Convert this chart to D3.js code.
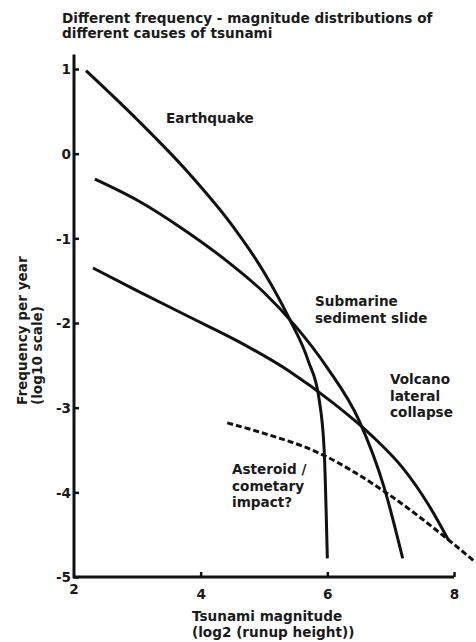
<!DOCTYPE html>
<html>
<head>
<meta charset="utf-8">
<script src="https://cdn.jsdelivr.net/npm/d3@7"></script>
<style>
  html, body { margin: 0; padding: 0; background: #fff; }
  svg text { font-family: "DejaVu Sans", Verdana, sans-serif; font-weight: bold; fill: #1a1a1a; }
</style>
</head>
<body>
<svg id="chart" width="476" height="642"></svg>
<script>
// Tsunami frequency-magnitude curves: x = log2(runup height), y = log10(frequency per year)
const xTicks = [2, 4, 6, 8];
const yTicks = [1, 0, -1, -2, -3, -4, -5];

const earthquake = [
  [2.19, 0.98], [3.0, 0.40], [3.8, -0.22], [4.5, -0.85], [5.0, -1.40],
  [5.4, -1.95], [5.7, -2.45], [5.87, -2.90], [5.95, -3.50], [6.0, -4.78]
];
const submarineSlide = [
  [2.33, -0.30], [3.0, -0.55], [3.7, -0.88], [4.4, -1.26], [5.0, -1.64],
  [5.5, -2.04], [6.0, -2.53], [6.5, -3.15], [6.9, -3.95], [7.19, -4.78]
];
const volcanoCollapse = [
  [2.30, -1.35], [3.0, -1.62], [3.8, -1.92], [4.6, -2.22], [5.4, -2.57],
  [6.1, -2.95], [6.7, -3.33], [7.2, -3.72], [7.6, -4.15], [7.91, -4.56]
];
const asteroidImpact = [
  [4.42, -3.18], [4.94, -3.29], [5.88, -3.54], [6.94, -4.01], [7.91, -4.56], [8.33, -4.82]
];

const svg = d3.select("#chart");
const x = d3.scaleLinear().domain([2, 8]).range([74, 454]);
const y = d3.scaleLinear().domain([-5, 1]).range([577, 69]);
const FS = "13.6px";

// Title
svg.append("text").attr("x", 62).attr("y", 23).style("font-size", FS)
  .text("Different frequency - magnitude distributions of");
svg.append("text").attr("x", 62).attr("y", 38).style("font-size", FS)
  .text("different causes of tsunami");

// Axes (plain hyphen for negative numbers)
const fmt = d => String(d);
const yAxis = d3.axisLeft(y).tickValues(yTicks).tickSize(-5).tickPadding(8).tickFormat(fmt);
const gy = svg.append("g").attr("transform", `translate(${x(2)},0)`).call(yAxis);
gy.select(".domain").remove();
gy.selectAll(".tick line").attr("stroke", "#111").attr("stroke-width", 2.5);
gy.selectAll(".tick text").style("font-size", FS).attr("dy", "0.35em").attr("x", -3);

const xAxis = d3.axisBottom(x).tickValues(xTicks.slice(1)).tickSize(-5).tickPadding(6).tickFormat(fmt);
const gx = svg.append("g").attr("transform", `translate(0,${y(-5)})`).call(xAxis);
gx.select(".domain").remove();
gx.selectAll(".tick line").attr("stroke", "#111").attr("stroke-width", 2.5);
gx.selectAll(".tick text").style("font-size", FS).attr("y", 12);

// origin label on the x axis
svg.append("text").attr("x", x(xTicks[0])).attr("y", 594).attr("text-anchor", "middle")
  .style("font-size", FS).text(xTicks[0]);

// axis lines
svg.append("path")
  .attr("d", `M${x(2)},${y(1.17)}V${y(-5)}H${x(8)}`)
  .attr("fill", "none").attr("stroke", "#111").attr("stroke-width", 3);

// Axis titles
svg.append("text").attr("x", 192).attr("y", 621).style("font-size", FS).text("Tsunami magnitude");
svg.append("text").attr("x", 192).attr("y", 637).style("font-size", FS).text("(log2 (runup height))");

const yl = svg.append("g").attr("transform", "translate(0,405) rotate(-90)");
yl.append("text").attr("x", 0).attr("y", 27).style("font-size", FS).text("Frequency per year");
yl.append("text").attr("x", 0).attr("y", 42).style("font-size", FS).text("(log10 scale)");

// Curves
const line = d3.line().x(d => x(d[0])).y(d => y(d[1])).curve(d3.curveMonotoneX);
[earthquake, submarineSlide, volcanoCollapse].forEach(s => {
  svg.append("path").attr("d", line(s)).attr("fill", "none")
    .attr("stroke", "#111").attr("stroke-width", 3);
});
svg.append("path").attr("d", line(asteroidImpact)).attr("fill", "none")
  .attr("stroke", "#111").attr("stroke-width", 3).attr("stroke-dasharray", "6,3");

// Curve labels
function label(lines, px, py, dy) {
  lines.forEach((t, i) => {
    svg.append("text").attr("x", px).attr("y", py + i * dy).style("font-size", FS).text(t);
  });
}
label(["Earthquake"], 166, 123, 0);
label(["Submarine", "sediment slide"], 315, 306, 16.5);
label(["Volcano", "lateral", "collapse"], 390, 384, 16.7);
label(["Asteroid /", "cometary", "impact?"], 232, 474, 16.5);
</script>
</body>
</html>
